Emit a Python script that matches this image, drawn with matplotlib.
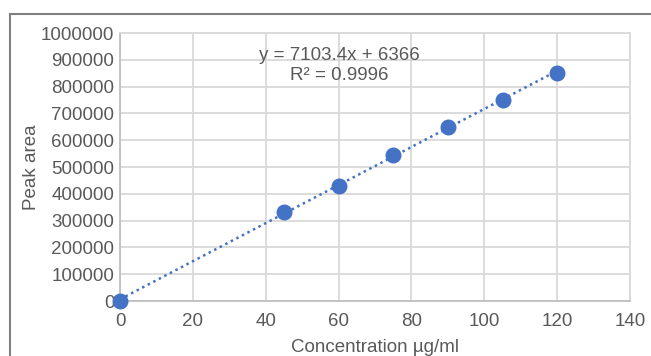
import matplotlib
matplotlib.use("Agg")
import matplotlib.pyplot as plt
from matplotlib.patches import Rectangle

conc = [0, 45, 60, 75, 90, 105, 120]
area = [0, 332000, 430000, 545000, 650000, 750000, 850000]
x_ticks = [0, 20, 40, 60, 80, 100, 120, 140]
y_ticks = [0, 100000, 200000, 300000, 400000, 500000, 600000, 700000, 800000, 900000, 1000000]
slope = 7103.4
intercept = 6366
r2 = 0.9996

text_col = "#595959"
grid_col = "#d9d9d9"
blue = "#4472c4"
fs = 13.5

plt.rcParams["font.family"] = ["Liberation Sans", "DejaVu Sans"]

W, H = 651, 356
fig = plt.figure(figsize=(W / 100, H / 100), dpi=100)
ax = fig.add_axes([120 / W, 1 - 301 / H, 510 / W, 268 / H])

# chart border (cut off at right and bottom)
fig.patches.append(Rectangle((10 / W, -0.1), 1.2, 1 - 14 / H + 0.1,
                             transform=fig.transFigure, fill=False,
                             edgecolor="#7f7f7f", lw=1.5))

ax.set_xlim(0, 140)
ax.set_ylim(0, 1000000)
ax.set_xticks(x_ticks)
ax.set_yticks(y_ticks)
ax.set_xticklabels([str(v) for v in x_ticks])
ax.set_yticklabels([str(v) for v in y_ticks])
ax.grid(True, color=grid_col, lw=1.3)
ax.set_axisbelow(True)
for s in ax.spines.values():
    s.set_color(grid_col)
    s.set_linewidth(1.3)
ax.spines["left"].set_color("#bfbfbf")
ax.spines["bottom"].set_color("#bfbfbf")
ax.tick_params(length=0, colors=text_col, labelsize=fs)
ax.tick_params(axis="y", pad=4)
ax.tick_params(axis="x", pad=9)

xs = [conc[0], conc[-1]]
ax.plot(xs, [slope * v + intercept for v in xs], ls=(0, (1, 1.5)),
        color=blue, lw=1.8, zorder=3)
ax.scatter(conc, area, s=110, color=blue, zorder=4, clip_on=False)

ax.text(60.1, 880000, f"y = {slope}x + {intercept}\nR² = {r2}",
        ha="center", va="center", multialignment="center",
        color=text_col, fontsize=fs, linespacing=1.25)

ax.set_xlabel("Concentration µg/ml", color=text_col, fontsize=fs, labelpad=6)
ax.set_ylabel("Peak area", color=text_col, fontsize=fs, labelpad=1)

fig.savefig("out.png", dpi=100)
